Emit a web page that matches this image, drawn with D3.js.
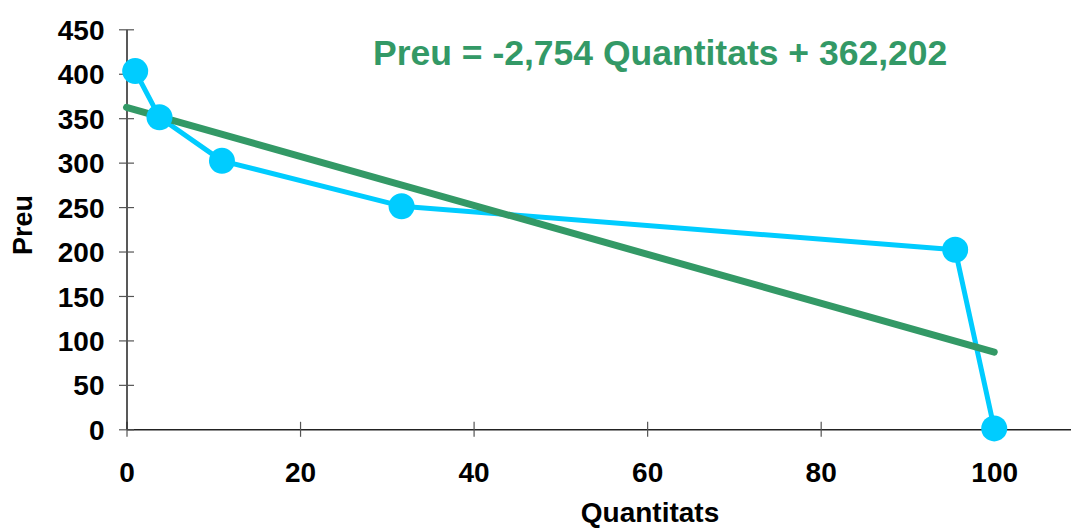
<!DOCTYPE html>
<html>
<head>
<meta charset="utf-8">
<script src="https://cdn.jsdelivr.net/npm/d3@7"></script>
<style>
  body { margin: 0; background: #fff; overflow: hidden; }
  .chart { width: 1071px; height: 528px; }
  text { font-family: "Liberation Sans", Arial, sans-serif; font-weight: bold; }
</style>
</head>
<body>
<div class="chart"></div>
<script>
// data
let quantitats = [1, 3.8, 11, 31.7, 95.5, 100];
let preus = [403, 351, 302, 251, 202, 1];

// regression line Preu = slope * Quantitats + intercept
let slope = -2.754;
let intercept = 362.202;
let fitRange = [0, 100];

let xTicks = [0, 20, 40, 60, 80, 100];
let yTicks = [0, 50, 100, 150, 200, 250, 300, 350, 400, 450];

let chart = {};

init();

function init() {
    setScales();
    appendElements();
}

function setScales() {
    chart.xScale = d3.scaleLinear()
        .domain([0, 110])
        .range([126.5, 1081]);

    chart.yScale = d3.scaleLinear()
        .domain([0, 450])
        .range([429.3, 29.3]);
}

function appendElements() {
    chart.svg = d3.select(".chart").append("svg")
        .attr("width", 1071)
        .attr("height", 528);

    // x axis, ticks crossing the line
    chart.xAxis = chart.svg.append("g")
        .attr("transform", `translate(0,${chart.yScale(0)})`)
        .call(d3.axisBottom(chart.xScale).tickValues(xTicks).tickSizeOuter(0));

    chart.xAxis.select(".domain").attr("stroke", "#222").attr("stroke-width", 1.5);
    chart.xAxis.selectAll(".tick line")
        .attr("y1", -7.5).attr("y2", 7.5)
        .attr("stroke", "#555").attr("stroke-width", 1.2);
    chart.xAxis.selectAll(".tick text")
        .attr("y", 53).attr("dy", 0)
        .attr("fill", "#000")
        .style("font-size", "28px");

    // y axis
    chart.yAxis = chart.svg.append("g")
        .attr("transform", `translate(${chart.xScale(0)},0)`)
        .call(d3.axisLeft(chart.yScale).tickValues(yTicks).tickSizeOuter(0));

    chart.yAxis.select(".domain").attr("stroke", "#222").attr("stroke-width", 1.5);
    chart.yAxis.selectAll(".tick line")
        .attr("x1", -7.5).attr("x2", 7.5)
        .attr("stroke", "#555").attr("stroke-width", 1.2);
    chart.yAxis.selectAll(".tick text")
        .attr("x", -22).attr("dy", "0.36em")
        .attr("fill", "#000")
        .style("font-size", "28px");

    // axis titles
    chart.svg.append("text")
        .attr("x", 650)
        .attr("y", 522)
        .attr("text-anchor", "middle")
        .style("font-size", "28px")
        .text("Quantitats");

    chart.svg.append("text")
        .attr("transform", "translate(32,225) rotate(-90)")
        .attr("text-anchor", "middle")
        .style("font-size", "27px")
        .text("Preu");

    // data line + markers
    let points = quantitats.map((q, i) => [q, preus[i]]);

    chart.svg.append("path")
        .datum(points)
        .attr("fill", "none")
        .attr("stroke", "#00CCFF")
        .attr("stroke-width", 5)
        .attr("stroke-linejoin", "round")
        .attr("d", d3.line()
            .x(d => chart.xScale(d[0]))
            .y(d => chart.yScale(d[1])));

    // regression line
    chart.svg.append("line")
        .attr("x1", chart.xScale(fitRange[0]))
        .attr("y1", chart.yScale(slope * fitRange[0] + intercept))
        .attr("x2", chart.xScale(fitRange[1]))
        .attr("y2", chart.yScale(slope * fitRange[1] + intercept))
        .attr("stroke", "#339966")
        .attr("stroke-width", 7)
        .attr("stroke-linecap", "round");

    chart.svg.append("g")
        .selectAll("circle")
        .data(points)
        .join("circle")
        .attr("cx", d => chart.xScale(d[0]))
        .attr("cy", d => chart.yScale(d[1]))
        .attr("r", 13)
        .attr("fill", "#00CCFF");

    // equation label
    chart.svg.append("text")
        .attr("x", 373)
        .attr("y", 65)
        .attr("fill", "#339966")
        .style("font-size", "35.5px")
        .text("Preu = -2,754 Quantitats + 362,202");
}
</script>
</body>
</html>
